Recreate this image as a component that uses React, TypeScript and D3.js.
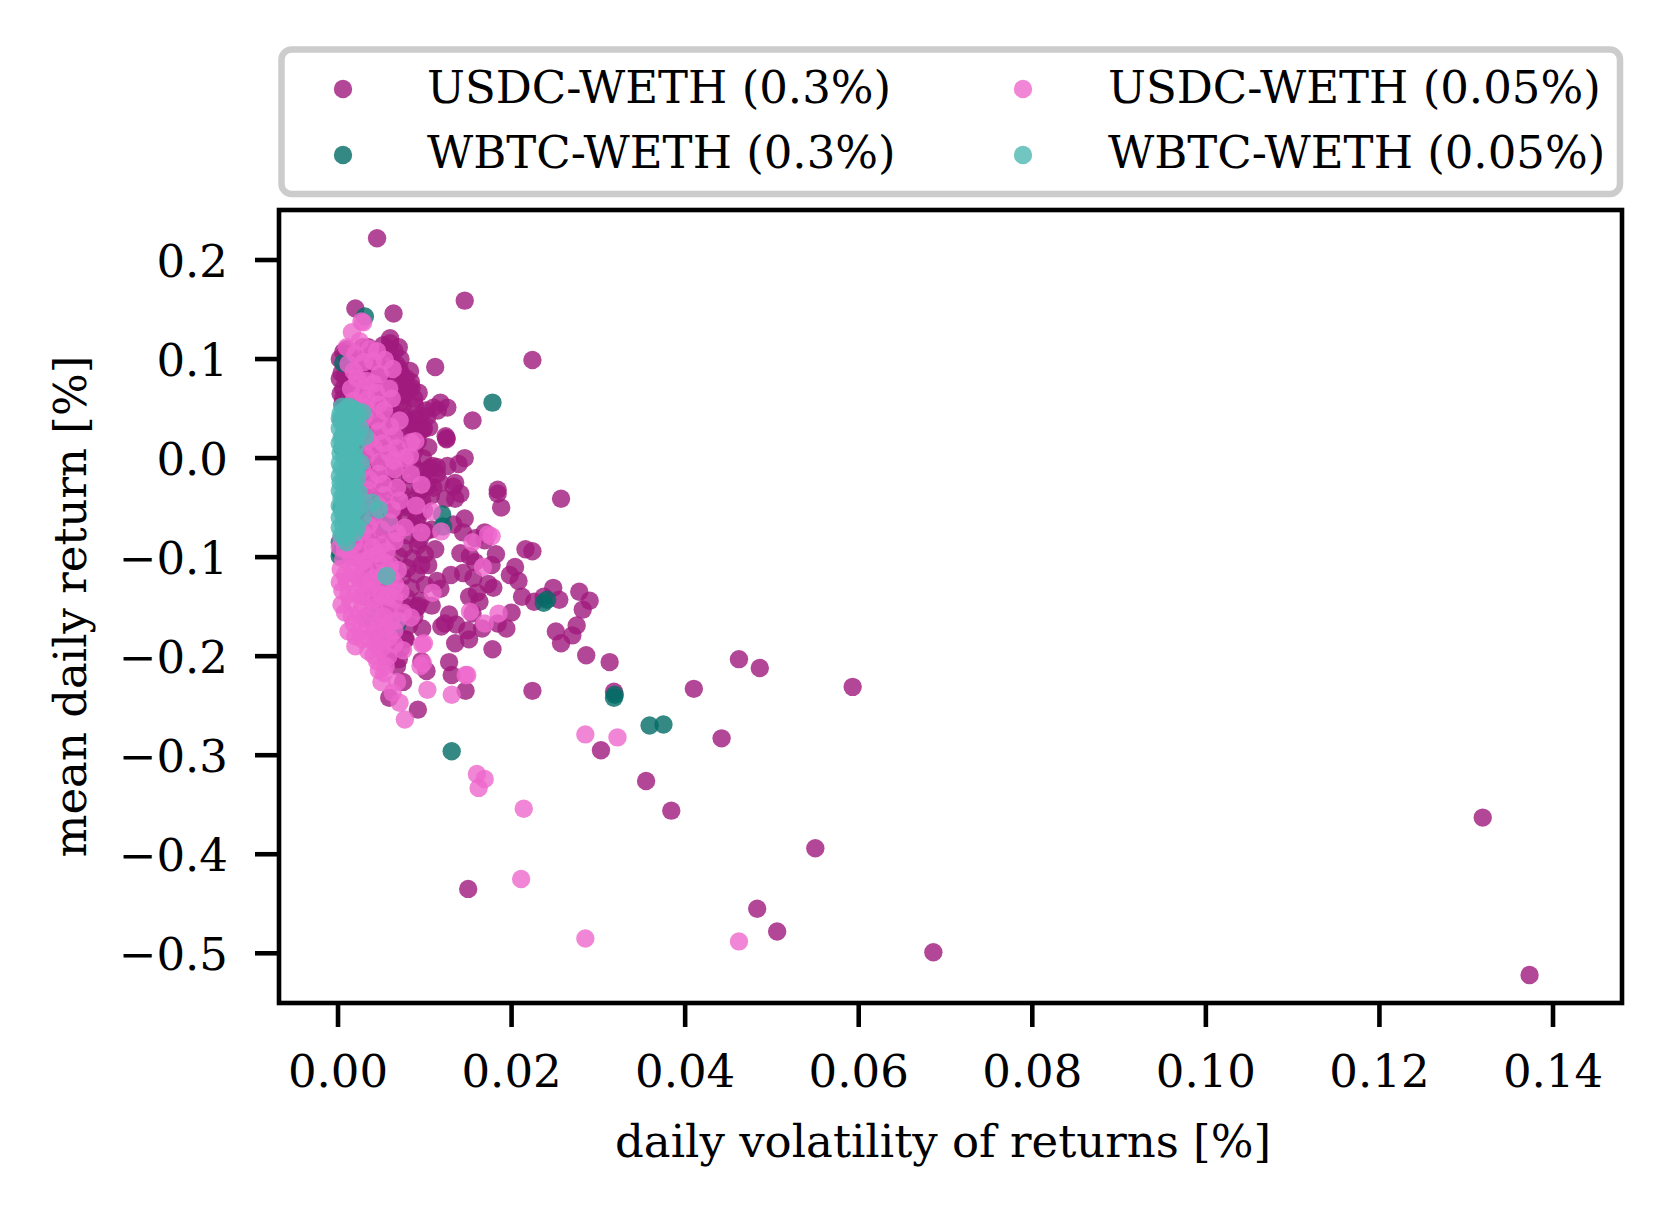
import React from 'react';
import * as d3 from 'd3';

const W = 1672;
const H = 1216;

const xTicks = [0, 0.02, 0.04, 0.06, 0.08, 0.1, 0.12, 0.14];
const xTickLabels = ['0.00', '0.02', '0.04', '0.06', '0.08', '0.10', '0.12', '0.14'];
const yTicks = [0.2, 0.1, 0, -0.1, -0.2, -0.3, -0.4, -0.5];
const yTickLabels = ['0.2', '0.1', '0.0', '\u22120.1', '\u22120.2', '\u22120.3', '\u22120.4', '\u22120.5'];

const seriesNames = ['USDC-WETH (0.3%)', 'WBTC-WETH (0.3%)', 'USDC-WETH (0.05%)', 'WBTC-WETH (0.05%)'];
const seriesColors = ['#a0197d', '#026b65', '#ee66cc', '#4db8b3'];

const xLabel = 'daily volatility of returns [%]';
const yLabel = 'mean daily return [%]';

type P = [number, number];

// USDC-WETH (0.3%)
const usdcWeth30: P[] = [
  [0.0045, 0.222], [0.0146, 0.159], [0.0020, 0.151], [0.0064, 0.146], [0.0224, 0.099], [0.0112, 0.092],
  [0.0155, 0.038], [0.0257, -0.041], [0.0184, -0.036], [0.0188, -0.050], [0.0224, -0.094], [0.0216, -0.092],
  [0.0204, -0.110], [0.0208, -0.124], [0.0248, -0.131], [0.0278, -0.135], [0.0255, -0.143], [0.0282, -0.153],
  [0.0290, -0.144], [0.0226, -0.145], [0.0275, -0.169], [0.0251, -0.175], [0.0270, -0.179], [0.0257, -0.187],
  [0.0286, -0.199], [0.0313, -0.206], [0.0318, -0.236], [0.0224, -0.235], [0.0092, -0.254], [0.0410, -0.233],
  [0.0462, -0.203], [0.0486, -0.212], [0.0593, -0.231], [0.0442, -0.283], [0.0303, -0.295], [0.0355, -0.326],
  [0.0384, -0.356], [0.0550, -0.394], [0.0150, -0.435], [0.0483, -0.455], [0.0506, -0.478], [0.0686, -0.499],
  [0.1319, -0.363], [0.1373, -0.522],
  [0.0084, 0.077], [0.0085, 0.071], [0.0072, 0.086], [0.0068, 0.094], [0.0060, 0.116], [0.0058, 0.110],
  [0.0065, 0.108], [0.0028, 0.112], [0.0043, 0.104], [0.0009, 0.105], [0.0016, 0.097], [0.0004, 0.086],
  [0.0006, 0.070], [0.0005, 0.054], [0.0004, 0.038], [0.0006, 0.022], [0.0049, 0.091], [0.0055, 0.075],
  [0.0075, 0.065], [0.0070, 0.054], [0.0077, 0.041], [0.0087, 0.034], [0.0095, 0.028], [0.0103, 0.042],
  [0.0110, 0.051], [0.0115, 0.048], [0.0099, 0.030], [0.0124, 0.022], [0.0125, 0.019], [0.0126, -0.008],
  [0.0139, -0.006], [0.0109, -0.008], [0.0103, -0.012], [0.0114, -0.016], [0.0107, -0.038], [0.0124, -0.041],
  [0.0133, -0.029], [0.0135, -0.041], [0.0141, -0.036], [0.0118, -0.025], [0.0103, -0.028], [0.0097, -0.043],
  [0.0081, -0.050], [0.0092, -0.061], [0.0101, -0.074], [0.0133, -0.067], [0.0146, -0.061], [0.0144, -0.075],
  [0.0141, -0.096], [0.0158, -0.081], [0.0152, -0.099], [0.0169, -0.083], [0.0158, -0.105], [0.0177, -0.108],
  [0.0144, -0.116], [0.0156, -0.121], [0.0160, -0.136], [0.0173, -0.127], [0.0179, -0.131], [0.0151, -0.140],
  [0.0163, -0.145], [0.0130, -0.118], [0.0114, -0.124], [0.0104, -0.108], [0.0118, -0.132], [0.0108, -0.149],
  [0.0123, -0.167], [0.0128, -0.158], [0.0136, -0.168], [0.0135, -0.187], [0.0151, -0.183], [0.0149, -0.174],
  [0.0178, -0.193], [0.0194, -0.172], [0.0155, -0.157], [0.0128, -0.206], [0.0131, -0.219], [0.0147, -0.235],
  [0.0119, -0.170], [0.0097, -0.172], [0.0092, -0.149], [0.0096, -0.205], [0.0102, -0.215], [0.0075, -0.226],
  [0.0068, -0.210], [0.0065, -0.194], [0.0077, -0.183], [0.0059, -0.242], [0.0169, -0.075], [0.0182, -0.097],
  [0.0198, -0.118], [0.0212, -0.140], [0.0237, -0.140], [0.0184, -0.167], [0.0166, -0.172], [0.0200, -0.156],
  [0.0060, 0.121], [0.0006, 0.107], [0.0118, 0.056], [0.0126, 0.051], [0.0125, 0.020], [0.0146, 0.000],
  [0.0098, 0.029], [0.0089, 0.039], [0.0114, -0.009], [0.0135, -0.025], [0.0184, -0.032],
  [0.0015, 0.100], [0.0030, 0.098], [0.0045, 0.101], [0.0060, 0.097], [0.0072, 0.100],
  [0.0008, 0.082], [0.0022, 0.079], [0.0035, 0.083], [0.0050, 0.080], [0.0064, 0.078], [0.0078, 0.081],
  [0.0006, 0.060], [0.0020, 0.062], [0.0034, 0.058], [0.0048, 0.061], [0.0062, 0.059], [0.0076, 0.063], [0.0088, 0.060],
  [0.0010, 0.041], [0.0025, 0.038], [0.0040, 0.042], [0.0055, 0.039], [0.0068, 0.040], [0.0082, 0.037], [0.0094, 0.043],
  [0.0008, 0.020], [0.0024, 0.022], [0.0038, 0.019], [0.0052, 0.021], [0.0066, 0.018], [0.0080, 0.022], [0.0092, 0.017],
  [0.0012, 0.001], [0.0027, -0.002], [0.0042, 0.002], [0.0056, -0.001], [0.0070, 0.003], [0.0085, -0.003], [0.0098, 0.000],
  [0.0010, -0.020], [0.0026, -0.018], [0.0040, -0.022], [0.0055, -0.019], [0.0069, -0.021], [0.0083, -0.017], [0.0096, -0.023],
  [0.0014, -0.041], [0.0030, -0.038], [0.0045, -0.042], [0.0060, -0.040], [0.0074, -0.037], [0.0088, -0.043],
  [0.0016, -0.060], [0.0032, -0.062], [0.0048, -0.058], [0.0063, -0.061], [0.0077, -0.059], [0.0090, -0.063],
  [0.0018, -0.080], [0.0034, -0.082], [0.0050, -0.079], [0.0066, -0.081], [0.0080, -0.078], [0.0094, -0.083],
  [0.0020, -0.100], [0.0037, -0.098], [0.0053, -0.102], [0.0070, -0.099], [0.0086, -0.101], [0.0100, -0.097],
  [0.0025, -0.121], [0.0042, -0.118], [0.0058, -0.122], [0.0074, -0.120], [0.0090, -0.117],
  [0.0030, -0.140], [0.0047, -0.142], [0.0063, -0.138], [0.0079, -0.141], [0.0095, -0.144],
  [0.0038, -0.161], [0.0055, -0.158], [0.0072, -0.162], [0.0088, -0.160],
  [0.0046, -0.181], [0.0062, -0.178], [0.0078, -0.183], [0.0055, -0.200], [0.0070, -0.203],
  [0.0010, 0.110], [0.0035, 0.112], [0.0052, 0.114], [0.0070, 0.112],
  [0.0012, 0.090], [0.0027, 0.089], [0.0042, 0.091], [0.0057, 0.088], [0.0071, 0.090], [0.0083, 0.088],
  [0.0014, 0.071], [0.0028, 0.069], [0.0042, 0.072], [0.0056, 0.068], [0.0070, 0.071], [0.0082, 0.069], [0.0093, 0.066],
  [0.0013, 0.051], [0.0030, 0.049], [0.0046, 0.052], [0.0061, 0.048], [0.0075, 0.050], [0.0089, 0.052], [0.0101, 0.048],
  [0.0016, 0.031], [0.0031, 0.029], [0.0047, 0.032], [0.0061, 0.028], [0.0074, 0.030], [0.0088, 0.027], [0.0105, 0.031],
  [0.0017, 0.011], [0.0032, 0.009], [0.0047, 0.012], [0.0061, 0.008], [0.0075, 0.010], [0.0088, 0.007], [0.0104, 0.011],
  [0.0019, -0.010], [0.0034, -0.012], [0.0049, -0.009], [0.0062, -0.011], [0.0077, -0.008], [0.0091, -0.012], [0.0106, -0.010],
  [0.0022, -0.030], [0.0037, -0.032], [0.0052, -0.029], [0.0067, -0.031], [0.0081, -0.028], [0.0094, -0.033], [0.0110, -0.030],
  [0.0024, -0.050], [0.0040, -0.052], [0.0055, -0.049], [0.0069, -0.051], [0.0084, -0.048], [0.0099, -0.053],
  [0.0026, -0.070], [0.0042, -0.072], [0.0057, -0.069], [0.0072, -0.071], [0.0086, -0.068], [0.0108, -0.072],
  [0.0028, -0.090], [0.0044, -0.092], [0.0060, -0.089], [0.0076, -0.091], [0.0092, -0.088], [0.0112, -0.092],
  [0.0031, -0.110], [0.0048, -0.112], [0.0064, -0.109], [0.0080, -0.111], [0.0096, -0.108],
  [0.0036, -0.130], [0.0052, -0.132], [0.0068, -0.129], [0.0084, -0.131], [0.0100, -0.128],
  [0.0042, -0.150], [0.0058, -0.152], [0.0075, -0.149], [0.0091, -0.151],
  [0.0050, -0.170], [0.0066, -0.172], [0.0082, -0.169], [0.0058, -0.190], [0.0073, -0.192],
  [0.0002, 0.100], [0.0002, 0.080], [0.0003, 0.065],
];

// WBTC-WETH (0.3%)
const wbtcWeth30: P[] = [
  [0.0031, 0.143], [0.0178, 0.056], [0.0237, -0.146], [0.0241, -0.143], [0.0319, -0.239], [0.0318, -0.242],
  [0.0359, -0.270], [0.0375, -0.269], [0.0131, -0.296], [0.0006, 0.096], [0.0002, -0.099], [0.0058, -0.066],
  [0.0121, -0.069], [0.0031, -0.161], [0.0068, -0.168], [0.0037, -0.159], [0.0048, -0.179], [0.0120, -0.057],
  [0.0002, -0.085], [0.0003, -0.095], [0.0005, 0.010], [0.0004, -0.050],
];

// USDC-WETH (0.05%)
const usdcWeth05: P[] = [
  [0.0285, -0.279], [0.0322, -0.282], [0.0160, -0.319], [0.0162, -0.333], [0.0169, -0.324], [0.0214, -0.354],
  [0.0211, -0.425], [0.0285, -0.485], [0.0462, -0.488], [0.0077, -0.264], [0.0071, -0.247], [0.0047, -0.214],
  [0.0053, -0.217], [0.0099, -0.187], [0.0095, -0.210], [0.0103, -0.234], [0.0131, -0.239], [0.0147, -0.219],
  [0.0177, -0.079], [0.0185, -0.157], [0.0169, -0.167],
  [0.0037, 0.110], [0.0054, 0.099], [0.0029, 0.137], [0.0016, 0.127], [0.0027, 0.138], [0.0020, 0.105],
  [0.0045, 0.108], [0.0012, 0.095], [0.0030, 0.097], [0.0063, 0.090],
  [0.0022, 0.081], [0.0041, 0.075], [0.0059, 0.070], [0.0034, 0.059], [0.0053, 0.048], [0.0071, 0.038],
  [0.0026, 0.032], [0.0047, 0.027], [0.0065, 0.022], [0.0084, 0.016], [0.0041, 0.011], [0.0059, 0.005],
  [0.0077, 0.000], [0.0089, 0.017], [0.0083, 0.002],
  [0.0028, -0.011], [0.0047, -0.016], [0.0065, -0.011], [0.0084, -0.016], [0.0096, -0.027], [0.0034, -0.032],
  [0.0053, -0.038], [0.0071, -0.043], [0.0090, -0.048], [0.0108, -0.054], [0.0041, -0.059], [0.0059, -0.065],
  [0.0077, -0.070], [0.0096, -0.075], [0.0119, -0.074],
  [0.0004, -0.081], [0.0018, -0.086], [0.0034, -0.081], [0.0050, -0.088], [0.0065, -0.084], [0.0006, -0.102],
  [0.0022, -0.108], [0.0038, -0.099], [0.0053, -0.105], [0.0069, -0.113], [0.0010, -0.124], [0.0026, -0.127],
  [0.0041, -0.121], [0.0055, -0.129], [0.0072, -0.135], [0.0014, -0.145], [0.0028, -0.149], [0.0043, -0.142],
  [0.0059, -0.151], [0.0075, -0.156], [0.0018, -0.167], [0.0034, -0.170], [0.0049, -0.164], [0.0065, -0.174],
  [0.0084, -0.161], [0.0028, -0.183], [0.0043, -0.188], [0.0059, -0.181], [0.0075, -0.194],
  [0.0041, -0.199], [0.0055, -0.210], [0.0068, -0.226], [0.0050, -0.226], [0.0063, -0.237],
  [0.0109, -0.136], [0.0097, -0.188], [0.0098, -0.207], [0.0149, -0.219], [0.0152, -0.155], [0.0173, -0.077],
  [0.0167, -0.110], [0.0155, -0.085],
  [0.0010, 0.112], [0.0025, 0.118], [0.0040, 0.098], [0.0018, 0.088], [0.0033, 0.078], [0.0048, 0.085],
  [0.0015, 0.070], [0.0028, 0.065], [0.0044, 0.066], [0.0018, 0.058], [0.0032, 0.050], [0.0047, 0.054],
  [0.0062, 0.060],
  [0.0030, 0.042], [0.0045, 0.038], [0.0060, 0.032], [0.0035, 0.018], [0.0052, 0.015], [0.0068, 0.010],
  [0.0032, 0.002], [0.0048, -0.004], [0.0064, -0.002], [0.0036, -0.022], [0.0052, -0.026], [0.0068, -0.030],
  [0.0030, -0.045], [0.0046, -0.048], [0.0062, -0.052], [0.0035, -0.068], [0.0050, -0.072], [0.0068, -0.076],
  [0.0028, -0.075],
  [0.0008, -0.092], [0.0024, -0.095], [0.0040, -0.090], [0.0056, -0.094],
  [0.0003, -0.112], [0.0016, -0.115], [0.0031, -0.112], [0.0046, -0.116], [0.0061, -0.120],
  [0.0005, -0.134], [0.0020, -0.136], [0.0035, -0.132], [0.0050, -0.138], [0.0065, -0.142],
  [0.0008, -0.156], [0.0023, -0.158], [0.0038, -0.155], [0.0053, -0.160], [0.0068, -0.164],
  [0.0012, -0.175], [0.0026, -0.175], [0.0041, -0.177], [0.0055, -0.172],
  [0.0020, -0.190], [0.0035, -0.195], [0.0050, -0.192],
  [0.0002, -0.090], [0.0015, -0.100], [0.0030, -0.104], [0.0045, -0.097], [0.0060, -0.108],
  [0.0008, -0.118], [0.0023, -0.120], [0.0038, -0.126], [0.0052, -0.118], [0.0066, -0.128],
  [0.0002, -0.125], [0.0012, -0.138], [0.0027, -0.140], [0.0042, -0.150], [0.0057, -0.140],
  [0.0004, -0.148], [0.0016, -0.160], [0.0031, -0.162], [0.0046, -0.170], [0.0061, -0.166],
  [0.0020, -0.180], [0.0036, -0.182], [0.0050, -0.185], [0.0065, -0.188], [0.0045, -0.205], [0.0058, -0.200],
];

// WBTC-WETH (0.05%)
const wbtcWeth05: P[] = [
  [0.0003, 0.045], [0.0008, 0.048], [0.0012, 0.040], [0.0005, 0.035], [0.0010, 0.030], [0.0015, 0.025],
  [0.0004, 0.020], [0.0009, 0.015], [0.0014, 0.010], [0.0020, 0.012], [0.0003, 0.005], [0.0008, 0.000],
  [0.0013, -0.005], [0.0019, 0.002], [0.0004, -0.010], [0.0009, -0.015], [0.0015, -0.020], [0.0021, -0.012],
  [0.0003, -0.025], [0.0008, -0.030], [0.0013, -0.035], [0.0018, -0.028], [0.0004, -0.040], [0.0009, -0.045],
  [0.0014, -0.050], [0.0020, -0.042], [0.0005, -0.055], [0.0010, -0.060], [0.0016, -0.058], [0.0006, -0.068],
  [0.0012, -0.072], [0.0008, -0.080], [0.0024, -0.035], [0.0026, -0.005], [0.0025, 0.030], [0.0002, 0.040],
  [0.0002, -0.060], [0.0016, 0.050], [0.0023, 0.044], [0.0031, 0.022], [0.0039, -0.045], [0.0047, -0.052],
  [0.0056, -0.119], [0.0028, -0.060], [0.0022, -0.070],
  [0.0002, 0.030], [0.0007, 0.025], [0.0012, 0.020], [0.0017, 0.018], [0.0007, 0.010], [0.0012, 0.004],
  [0.0017, -0.002], [0.0002, -0.005], [0.0007, -0.020], [0.0012, -0.012], [0.0017, -0.010], [0.0002, -0.018],
  [0.0007, -0.038], [0.0012, -0.028], [0.0017, -0.036], [0.0002, -0.033], [0.0002, -0.048], [0.0007, -0.052],
  [0.0012, -0.045], [0.0017, -0.048], [0.0002, -0.070], [0.0007, -0.062], [0.0012, -0.060], [0.0017, -0.066],
  [0.0004, -0.078], [0.0010, -0.085], [0.0005, 0.052], [0.0012, 0.052], [0.0020, 0.048], [0.0028, 0.046],
  [0.0018, 0.038], [0.0007, 0.040], [0.0017, 0.032], [0.0002, 0.015], [0.0021, 0.022], [0.0022, -0.020],
  [0.0023, -0.050], [0.0019, -0.075],
];

const seriesData = [usdcWeth30, wbtcWeth30, usdcWeth05, wbtcWeth05];

const FONT = '"DejaVu Serif", serif';

export default function App() {
  const left = 279;
  const right = 1622;
  const top = 210;
  const bottom = 1003;

  const x = d3.scaleLinear().domain([-0.0068, 0.14795]).range([left, right]);
  const y = d3.scaleLinear().domain([-0.5502, 0.2505]).range([bottom, top]);

  const r = 9.2;
  const tickLen = 22;
  const fs = 45;

  return (
    <svg
      width={W}
      height={H}
      viewBox={`0 0 ${W} ${H}`}
      style={{ position: 'absolute', left: 0, top: 0, background: '#fff' }}
      fontFamily={FONT}
    >
      <rect x={0} y={0} width={W} height={H} fill="#fff" />
      <defs>
        <clipPath id="plotclip">
          <rect x={left} y={top} width={right - left} height={bottom - top} />
        </clipPath>
      </defs>

      <g clipPath="url(#plotclip)">
        {seriesData.map((data, si) => (
          <g key={si} fill={seriesColors[si]} fillOpacity={0.8}>
            {data.map((d, i) => (
              <circle key={i} cx={x(d[0])} cy={y(d[1])} r={r} />
            ))}
          </g>
        ))}
      </g>

      <rect x={left} y={top} width={right - left} height={bottom - top} fill="none" stroke="#000" strokeWidth={4.6} />

      {xTicks.map((t, i) => (
        <g key={i}>
          <line x1={x(t)} x2={x(t)} y1={bottom} y2={bottom + tickLen + 2} stroke="#000" strokeWidth={4.6} />
          <text x={x(t)} y={1087} fontSize={fs} textAnchor="middle" fill="#000">
            {xTickLabels[i]}
          </text>
        </g>
      ))}

      {yTicks.map((t, i) => (
        <g key={i}>
          <line x1={left - tickLen - 2} x2={left} y1={y(t)} y2={y(t)} stroke="#000" strokeWidth={4.6} />
          <text x={228} y={y(t) + 16.5} fontSize={fs} textAnchor="end" fill="#000">
            {yTickLabels[i]}
          </text>
        </g>
      ))}

      <text x={943} y={1157} fontSize={fs} textAnchor="middle" fill="#000">
        {xLabel}
      </text>
      <text
        transform={`translate(86,${(top + bottom) / 2}) rotate(-90)`}
        fontSize={fs}
        textAnchor="middle"
        fill="#000"
      >
        {yLabel}
      </text>

      <rect x={281.5} y={49.5} width={1338.5} height={144.5} rx={10} ry={10} fill="#fff" stroke="#cccccc" strokeWidth={6.5} />
      {seriesNames.map((name, i) => {
        const col = Math.floor(i / 2);
        const row = i % 2;
        const mx = col === 0 ? 343 : 1023;
        const tx = col === 0 ? 427 : 1108;
        const my = row === 0 ? 89 : 155;
        const ty = row === 0 ? 103 : 168;
        return (
          <g key={i}>
            <circle cx={mx} cy={my} r={r} fill={seriesColors[i]} fillOpacity={0.8} />
            <text x={tx} y={ty} fontSize={fs} fill="#000">
              {name}
            </text>
          </g>
        );
      })}
    </svg>
  );
}
